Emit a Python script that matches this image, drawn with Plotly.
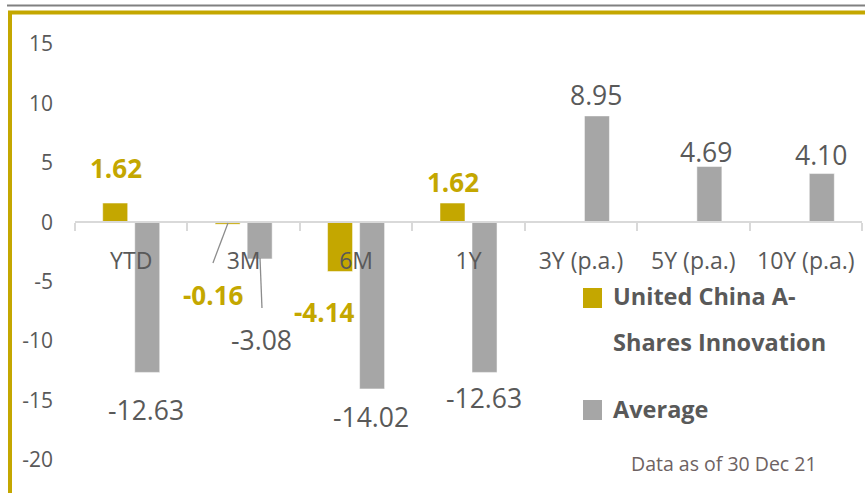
import plotly.graph_objects as go

categories = ["YTD", "3M", "6M", "1Y", "3Y (p.a.)", "5Y (p.a.)", "10Y (p.a.)"]
fund_values = [1.62, -0.16, -4.14, 1.62, None, None, None]
avg_values = [-12.63, -3.08, -14.02, -12.63, 8.95, 4.69, 4.10]
fund_name = "United China A-<br>Shares Innovation"
avg_name = "Average"
y_ticks = [15, 10, 5, 0, -5, -10, -15, -20]
y_tick_text = ["15", "10", "5", "0", "-5", "-10", "-15", "-20"]
note = "Data as of 30 Dec 21"

GOLD = "#C4A700"
GRAY = "#A6A6A6"
TXT = "#595959"
FONT = "Open Sans"

# label offsets (pixels) relative to category centre / bar end
fund_lbl_dx = [-15, -30, -32, -15.5, 0, 0, 0]
fund_lbl_dy = [35, -71, -41, 21, 0, 0, 0]
avg_lbl_dx = [15, 17.4, 15, 15.5, 15, 12.7, 15]
avg_lbl_dy = [-38, -81, -28, -26, 21, 15, 19]

W, H = 865, 493
L, R, T, B = 75, 3, 44, 33
PW, PH = W - L - R, H - T - B


def px_x(p):
    return (p - L) / PW


def px_y(p):
    return (H - B - p) / PH


fig = go.Figure()
fig.add_trace(go.Bar(x=categories, y=fund_values, name=fund_name,
                     marker=dict(color=GOLD, line=dict(color="white", width=0.5))))
fig.add_trace(go.Bar(x=categories, y=avg_values, name=avg_name,
                     marker=dict(color=GRAY, line=dict(color="white", width=0.5))))

ann = []
for i, v in enumerate(fund_values):
    if v is None:
        continue
    ann.append(dict(x=categories[i], y=v, xref="x", yref="y", text=f"<b>{v:.2f}</b>",
                    showarrow=False, xshift=fund_lbl_dx[i], yshift=fund_lbl_dy[i],
                    font=dict(family=FONT, size=26, color=GOLD)))
for i, v in enumerate(avg_values):
    ann.append(dict(x=categories[i], y=v, xref="x", yref="y", text=f"{v:.2f}",
                    showarrow=False, xshift=avg_lbl_dx[i], yshift=avg_lbl_dy[i],
                    font=dict(family=FONT, size=26.5, color=TXT)))

# legend drawn as text + squares
for txt, ypx in [("United China A-", 296), ("Shares Innovation", 342), ("Average", 409)]:
    ann.append(dict(x=px_x(611), y=px_y(ypx), xref="paper", yref="paper", text=f"<b>{txt}</b>",
                    showarrow=False, xanchor="left", yanchor="middle",
                    font=dict(family=FONT, size=23.5, color=TXT)))
ann.append(dict(x=px_x(724), y=px_y(463), xref="paper", yref="paper", text=note,
                showarrow=False, xanchor="center", yanchor="middle",
                font=dict(family=FONT, size=19.5, color="#6E6262")))

shapes = [
    dict(type="line", xref="paper", yref="paper", x0=px_x(7), x1=px_x(870),
         y0=px_y(5.5), y1=px_y(5.5), line=dict(color="#808080", width=2)),
    dict(type="path", xref="paper", yref="paper",
         path=f"M {px_x(10)} {px_y(500)} L {px_x(10)} {px_y(12.5)} L {px_x(870)} {px_y(12.5)}",
         line=dict(color=GOLD, width=4)),
    dict(type="rect", xref="paper", yref="paper", x0=px_x(583), x1=px_x(602),
         y0=px_y(308), y1=px_y(288), line=dict(width=0), fillcolor=GOLD),
    dict(type="rect", xref="paper", yref="paper", x0=px_x(583), x1=px_x(602),
         y0=px_y(420), y1=px_y(400), line=dict(width=0), fillcolor=GRAY),
    # leader lines
    dict(type="line", xref="x", yref="y", x0=0.861, y0=-0.06, x1=0.727, y1=-3.42,
         line=dict(color="#8C8C8C", width=1.3)),
    dict(type="line", xref="x", yref="y", x0=1.1455, y0=-3.0, x1=1.163, y1=-7.21,
         line=dict(color="#8C8C8C", width=1.3)),
]

fig.update_layout(
    width=W, height=H,
    margin=dict(l=L, r=R, t=T, b=B),
    paper_bgcolor="white", plot_bgcolor="white",
    barmode="group", bargap=0.43, bargroupgap=0.22,
    showlegend=False,
    font=dict(family=FONT, color=TXT),
    annotations=ann, shapes=shapes,
    xaxis=dict(type="category", anchor="free", position=20 / 35,
               showline=True, linecolor="#D9D9D9", linewidth=2,
               ticks="outside", tickson="boundaries", ticklen=8, tickcolor="#D9D9D9", tickwidth=2,
               tickfont=dict(family=FONT, size=23, color=TXT), ticklabelstandoff=18,
               showgrid=False, zeroline=False),
    yaxis=dict(range=[-20, 15], tickvals=y_ticks, ticktext=y_tick_text,
               showgrid=False, zeroline=False,
               showline=False, ticks="", ticklabelstandoff=21,
               tickfont=dict(family=FONT, size=21, color=TXT)),
)

fig.write_html("out.html", config={"displayModeBar": False},
               post_script="document.body.style.margin='0';")
